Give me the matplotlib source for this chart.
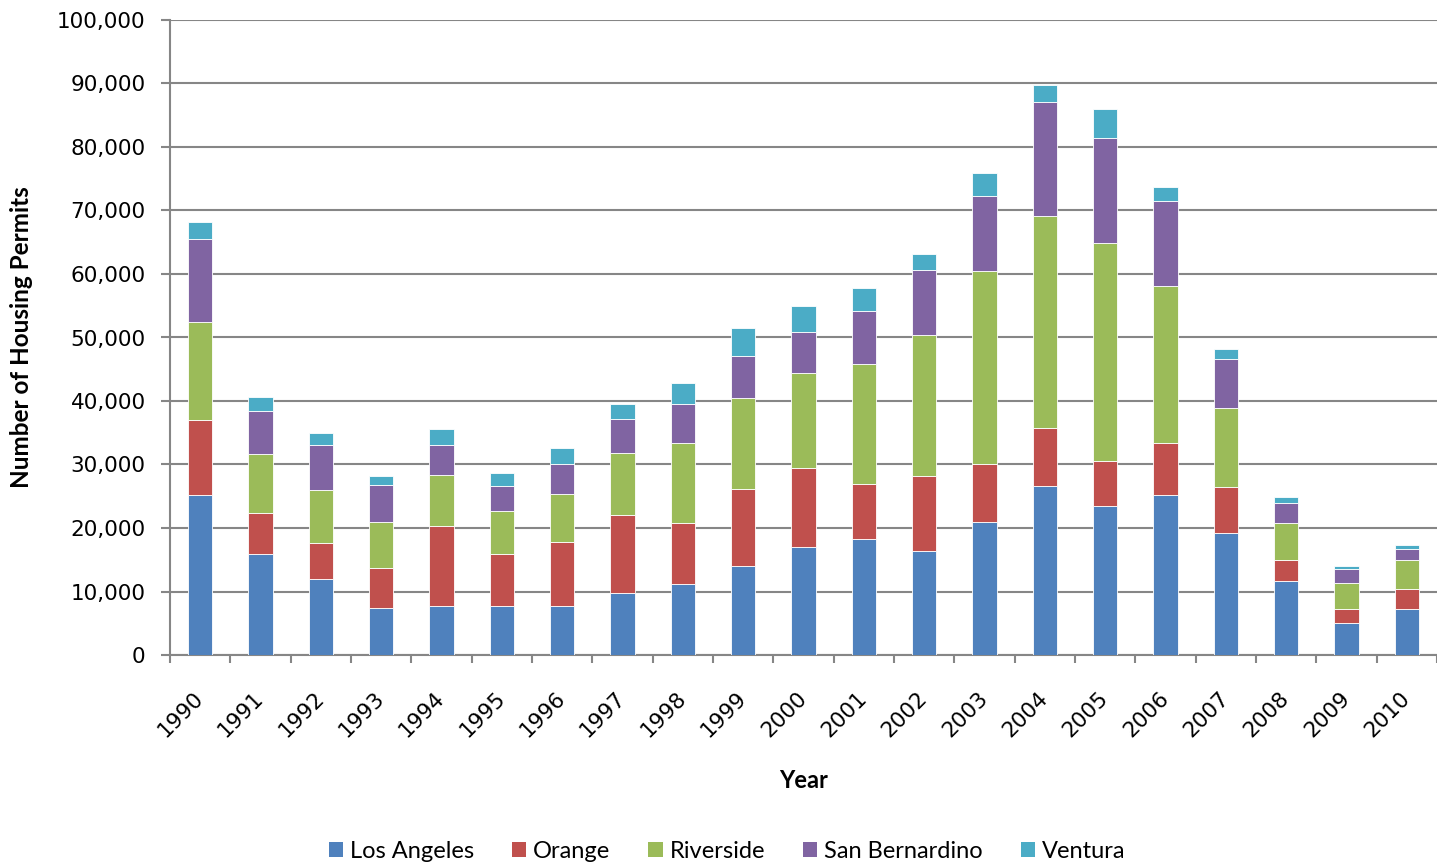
import matplotlib
matplotlib.use("Agg")
from matplotlib import pyplot as plt
from matplotlib.ticker import FuncFormatter, MultipleLocator
from matplotlib.patches import Patch
import numpy as np

# Housing permits by county, 1990-2010
years = [str(y) for y in range(1990, 2011)]
los_angeles = [25150, 15850, 11910, 7450, 7720, 7770, 7660, 9820, 11180, 14020, 16960,
               18270, 16430, 20890, 26570, 23430, 25180, 19210, 11730, 5100, 7210]
orange = [11850, 6560, 5780, 6300, 12590, 8140, 10190, 12230, 9660, 12180, 12440,
          8610, 11810, 9190, 9150, 7170, 8250, 7290, 3260, 2180, 3140]
riverside = [15390, 9240, 8240, 7250, 7980, 6770, 7560, 9710, 12550, 14220, 15010,
             18950, 22200, 30390, 33400, 34360, 24710, 12410, 5780, 4030, 4580]
san_bernardino = [13170, 6830, 7190, 5720, 4830, 3930, 4720, 5460, 6090, 6720, 6510,
                  8340, 10190, 11860, 18020, 16510, 13390, 7720, 3200, 2300, 1750]
ventura = [2640, 2200, 1790, 1420, 2420, 2100, 2420, 2310, 3350, 4410, 3990,
           3570, 2520, 3520, 2570, 4580, 2220, 1560, 910, 360, 660]

series = [("Los Angeles", los_angeles, "#4F81BD"),
          ("Orange", orange, "#C0504D"),
          ("Riverside", riverside, "#9BBB59"),
          ("San Bernardino", san_bernardino, "#8064A2"),
          ("Ventura", ventura, "#4BACC6")]

fig = plt.figure(figsize=(14.37, 8.66), dpi=100)
ax = fig.add_axes([170 / 1437, 211 / 866, 1267 / 1437, 635 / 866])

x = np.arange(len(years))
bottom = np.zeros(len(years))
for name, vals, color in series:
    vals = np.array(vals, dtype=float)
    ax.bar(x, vals, width=0.4, bottom=bottom, color=color, edgecolor="white",
           linewidth=0.6, label=name, zorder=3)
    bottom += vals

ax.set_xlim(-0.5, len(years) - 0.5)
ax.set_ylim(0, 100000)
ax.yaxis.set_major_locator(MultipleLocator(10000))
ax.yaxis.set_major_formatter(FuncFormatter(lambda v, p: f"{int(v):,}"))
ax.grid(axis="y", color="#868686", linewidth=1.5, zorder=0)

for side in ["top", "right"]:
    ax.spines[side].set_visible(False)
for side in ["left", "bottom"]:
    ax.spines[side].set_color("#868686")
    ax.spines[side].set_linewidth(1.5)

# category labels centred on bars, tick marks on category boundaries
ax.set_xticks(x)
ax.set_xticklabels(years, rotation=45, ha="right", va="center",
                   rotation_mode="anchor", fontsize=15.5, family="DejaVu Sans")
ax.set_xticks(np.arange(len(years) + 1) - 0.5, minor=True)
ax.tick_params(axis="x", which="major", length=0, pad=29)
ax.tick_params(axis="x", which="minor", length=6, width=1.5, color="#868686",
               direction="out")
ax.tick_params(axis="y", length=6.5, width=1.5, color="#868686", pad=11,
               labelsize=15.5)

ax.set_xlabel("Year", fontsize=17, fontweight="bold", family="Lato")
ax.xaxis.set_label_coords(0.5, -0.18)
ax.set_ylabel("Number of Housing Permits", fontsize=17.5, fontweight="bold",
              family="Lato")
ax.yaxis.set_label_coords(-0.108, 0.5)

handles = [Patch(facecolor=c, edgecolor="none", label=n) for n, _, c in series]
fig.legend(handles=handles, loc="center", bbox_to_anchor=(0.506, 0.0173),
           ncol=5, frameon=False, prop={"family": "Lato", "size": 17},
           handlelength=0.6, handleheight=0.6, handletextpad=0.3,
           columnspacing=1.6)

fig.savefig("out.png", dpi=100)
